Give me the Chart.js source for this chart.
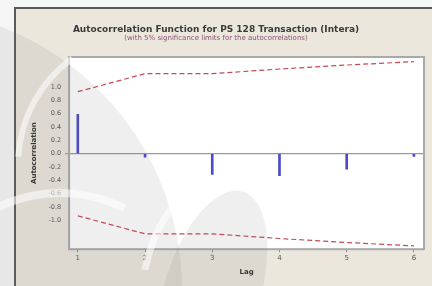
<!DOCTYPE html>
<html>
<head>
<meta charset="utf-8">
<script src="https://cdn.jsdelivr.net/npm/chart.js@4"></script>
<style>
  html, body { margin: 0; padding: 0; background: #f4f4f4; }
  #wrap { position: relative; width: 432px; height: 286px; }
</style>
</head>
<body>
<div id="wrap"><canvas id="acfChart" width="432" height="286"></canvas></div>
<script>
// --- data ---
const lags       = [1, 2, 3, 4, 5, 6];
const acfValues  = [0.59, -0.05, -0.31, -0.33, -0.23, -0.04];
const upperLimit = [0.93, 1.20, 1.20, 1.27, 1.33, 1.38];
const lowerLimit = [-0.93, -1.20, -1.20, -1.27, -1.33, -1.38];
const yTicks     = [-1.0, -0.8, -0.6, -0.4, -0.2, 0.0, 0.2, 0.4, 0.6, 0.8, 1.0];

const pts = (xs, ys) => xs.map((x, i) => ({ x: x, y: ys[i] }));

// frame, beige panel and plot box behind the chart
const backdrop = {
  id: 'backdrop',
  beforeDraw(chart) {
    const c = chart.ctx, a = chart.chartArea;
    c.save();
    c.fillStyle = '#f6f6f6';
    c.fillRect(0, 0, 432, 286);
    c.fillStyle = '#ebe7dd';
    c.fillRect(15, 8, 417, 278);
    c.fillStyle = '#5a5a5a';
    c.fillRect(14, 7, 418, 2);
    c.fillRect(14, 7, 2, 279);
    c.fillStyle = '#ffffff';
    c.fillRect(a.left, a.top, a.right - a.left, a.bottom - a.top);
    c.restore();
  },
  afterDatasetsDraw(chart) {
    const c = chart.ctx, a = chart.chartArea;
    c.save();
    c.strokeStyle = '#a9a9a9';
    c.lineWidth = 2;
    c.strokeRect(a.left, a.top, a.right - a.left, a.bottom - a.top);
    c.restore();
  }
};

// faint scanned watermark over the picture
const watermark = {
  id: 'watermark',
  afterDraw(chart) {
    const c = chart.ctx;
    c.save();
    c.fillStyle = 'rgba(110,110,110,0.11)';
    c.beginPath(); c.arc(-100, 290, 282, 0, Math.PI * 2); c.fill();
    c.beginPath(); c.ellipse(212, 292, 48, 105, 0.3, 0, Math.PI * 2); c.fill();
    c.strokeStyle = 'rgba(255,255,255,0.55)';
    c.lineWidth = 6;
    c.beginPath(); c.arc(150, 165, 132, 1.02 * Math.PI, 1.3 * Math.PI); c.stroke();
    c.lineWidth = 8;
    c.beginPath(); c.arc(60, 335, 142, -0.85 * Math.PI, -0.35 * Math.PI); c.stroke();
    c.lineWidth = 7;
    c.beginPath(); c.arc(300, 300, 158, -2.95, -2.2); c.stroke();
    c.restore();
  }
};

new Chart(document.getElementById('acfChart').getContext('2d'), {
  data: {
    datasets: [
      {
        type: 'bar',
        label: 'Autocorrelation',
        data: pts(lags, acfValues),
        backgroundColor: '#4b4bc8',
        barThickness: 2,
        order: 2
      },
      {
        type: 'line',
        label: 'Upper limit',
        data: pts(lags, upperLimit),
        borderColor: '#c24a55',
        borderWidth: 1.2,
        borderDash: [5, 3],
        pointRadius: 0,
        fill: false,
        order: 1
      },
      {
        type: 'line',
        label: 'Lower limit',
        data: pts(lags, lowerLimit),
        borderColor: '#c24a55',
        borderWidth: 1.2,
        borderDash: [5, 3],
        pointRadius: 0,
        fill: false,
        order: 1
      }
    ]
  },
  options: {
    responsive: false,
    animation: false,
    layout: { padding: { left: 8, right: 8, top: 21, bottom: 6 } },
    plugins: {
      legend: { display: false },
      tooltip: { enabled: false },
      title: {
        display: true,
        text: 'Autocorrelation Function for PS 128 Transaction (Intera)',
        color: '#3a3a3a',
        font: { family: 'DejaVu Sans', size: 9, weight: 'bold', lineHeight: 1 },
        padding: { top: 4, bottom: 1 }
      },
      subtitle: {
        display: true,
        text: '(with 5% significance limits for the autocorrelations)',
        color: '#8a5070',
        font: { family: 'DejaVu Sans', size: 7, lineHeight: 1 },
        padding: { top: 0, bottom: 15 }
      }
    },
    scales: {
      x: {
        type: 'linear',
        offset: false,
        min: 0.87,
        max: 6.15,
        afterBuildTicks: s => { s.ticks = lags.map(v => ({ value: v })); },
        ticks: { color: '#555', font: { family: 'DejaVu Sans', size: 7 }, padding: 2,
                 autoSkip: false, callback: v => String(v) },
        grid: { offset: false, drawOnChartArea: false, drawTicks: true, tickLength: 3, color: '#888' },
        border: { display: false },
        title: { display: true, text: 'Lag', color: '#333',
                 font: { family: 'DejaVu Sans', size: 7, weight: 'bold' }, padding: { top: 3 } }
      },
      y: {
        min: -1.43,
        max: 1.45,
        afterBuildTicks: s => { s.ticks = yTicks.map(v => ({ value: v })); },
        ticks: { color: '#555', font: { family: 'DejaVu Sans', size: 6.5 }, padding: 4,
                 autoSkip: false, callback: v => Number(v).toFixed(1) },
        grid: {
          drawTicks: true,
          tickLength: 4,
          color: ctx => (ctx.tick && ctx.tick.value === 0) ? '#9a9a9a' : 'rgba(0,0,0,0)',
          lineWidth: ctx => (ctx.tick && ctx.tick.value === 0) ? 1.2 : 1
        },
        border: { display: false },
        title: { display: true, text: 'Autocorrelation', color: '#333',
                 font: { family: 'DejaVu Sans', size: 7, weight: 'bold' }, padding: { top: 22, bottom: 6 } }
      }
    }
  },
  plugins: [backdrop, watermark]
});
</script>
</body>
</html>
